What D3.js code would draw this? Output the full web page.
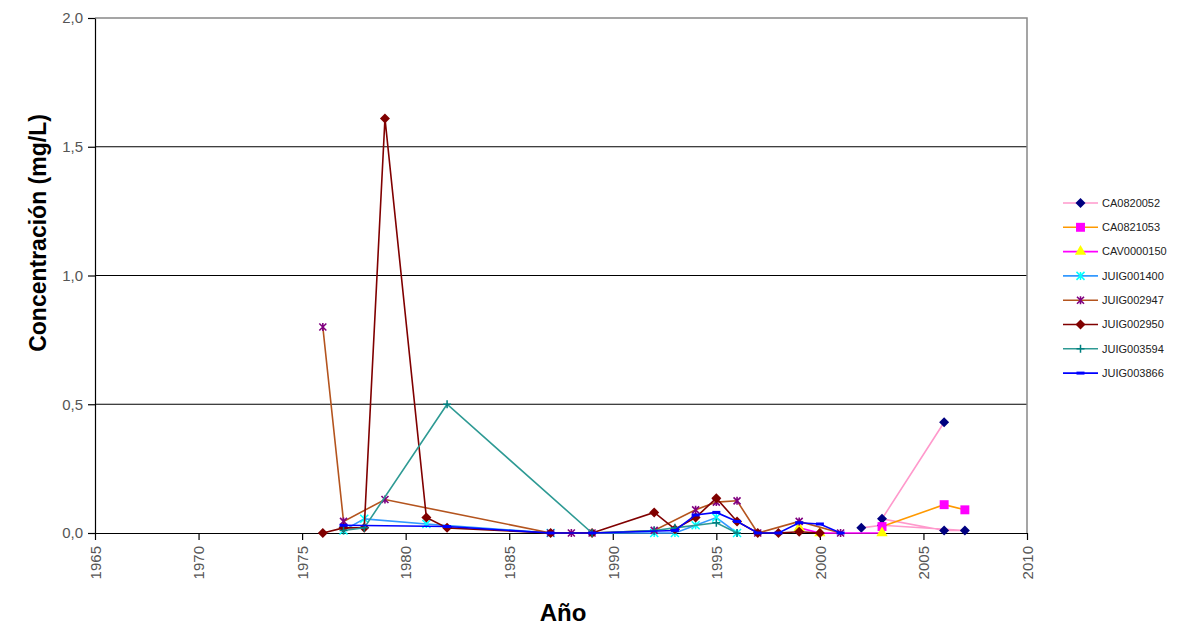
<!DOCTYPE html>
<html>
<head>
<meta charset="utf-8">
<script src="https://cdn.jsdelivr.net/npm/d3@7"></script>
<style>
  body { margin: 0; background: #fff; }
  svg { font-family: "Liberation Sans", Arial, sans-serif; }
</style>
</head>
<body>
<svg id="chart" width="1179" height="629"></svg>
<script>
// series data: [year, mg/L]
const CA0820052 = [[2002,0.02],[2003,0.03],[2007,0.01],[2006,0.01],[2003,0.055],[2006,0.43]];
const CA0821053 = [[2003,0.025],[2006,0.11],[2007,0.09]];
const CAV0000150 = [[1999,0.02],[2000,0.0],[2003,0.0]];
const JUIG001400 = [[1977,0.01],[1978,0.055],[1981,0.035],[1987,0.0],[1992,0.0],[1993,0.0],[1994,0.03],[1995,0.06],[1996,0.0]];
const JUIG002947 = [[1976,0.80],[1977,0.045],[1979,0.13],[1987,0.0],[1988,0.0],[1989,0.0],[1992,0.01],[1994,0.09],[1995,0.12],[1996,0.125],[1997,0.0],[1999,0.045],[2001,0.0]];
const JUIG002950 = [[1976,0.0],[1977,0.02],[1978,0.02],[1979,1.61],[1981,0.06],[1982,0.02],[1987,0.0],[1989,0.0],[1992,0.08],[1993,0.015],[1994,0.06],[1995,0.135],[1996,0.045],[1997,0.0],[1998,0.0],[1999,0.005],[2000,0.0]];
const JUIG003594 = [[1977,0.01],[1978,0.02],[1982,0.50],[1989,0.0],[1992,0.01],[1993,0.02],[1995,0.04],[1996,0.0]];
const JUIG003866 = [[1977,0.03],[1982,0.025],[1987,0.0],[1989,0.0],[1993,0.01],[1994,0.07],[1995,0.08],[1996,0.045],[1997,0.0],[1998,0.0],[1999,0.04],[2000,0.035],[2001,0.0]];

const seriesNames = ["CA0820052","CA0821053","CAV0000150","JUIG001400","JUIG002947","JUIG002950","JUIG003594","JUIG003866"];
const seriesData = [CA0820052, CA0821053, CAV0000150, JUIG001400, JUIG002947, JUIG002950, JUIG003594, JUIG003866];
const xTicks = [1965,1970,1975,1980,1985,1990,1995,2000,2005,2010];
const yTicks = [0, 0.5, 1.0, 1.5, 2.0];

const styles = [
  {line: "#ff99cc", marker: "diamond", fill: "#000080"},
  {line: "#ff9900", marker: "square", fill: "#ff00ff"},
  {line: "#ff00ff", marker: "triangle", fill: "#ffff00"},
  {line: "#3399ff", marker: "star", fill: "#00ffff"},
  {line: "#b4541e", marker: "asterisk", fill: "#800080"},
  {line: "#800000", marker: "diamond", fill: "#800000"},
  {line: "#2e9a94", marker: "plus", fill: "#008080"},
  {line: "#0000ff", marker: "dash", fill: "#0000ff"}
];

const margin = {top: 18, left: 95};
const width = 932, height = 515;
const svg = d3.select("#chart");
const g = svg.append("g").attr("transform", "translate(" + margin.left + "," + margin.top + ")");

const x = d3.scaleLinear().domain([1965, 2010]).range([0, width]);
const y = d3.scaleLinear().domain([0, 2]).range([height, 0]);

// gridlines
g.append("g").selectAll("line")
  .data(yTicks.filter(d => d > 0 && d < 2))
  .enter().append("line")
  .attr("x1", 0).attr("x2", width)
  .attr("y1", d => y(d)).attr("y2", d => y(d))
  .attr("stroke", "#000").attr("stroke-width", 1.2);

// plot border (top + right)
g.append("path")
  .attr("d", "M0," + y(2) + "H" + width + "V" + height)
  .attr("fill", "none").attr("stroke", "#888").attr("stroke-width", 1.5);

const fmt = d => d.toFixed(1).replace(".", ",");

const yAxis = g.append("g")
  .call(d3.axisLeft(y).tickValues(yTicks).tickFormat(fmt).tickSize(7).tickSizeOuter(0));
yAxis.selectAll("text").attr("font-size", 15).attr("fill", "#555").attr("dx", "-2");

const xAxis = g.append("g")
  .attr("transform", "translate(0," + height + ")")
  .call(d3.axisBottom(x).tickValues(xTicks).tickFormat(d3.format("d")).tickSize(7).tickSizeOuter(0));
xAxis.selectAll("text")
  .attr("font-size", 15).attr("fill", "#555")
  .attr("transform", "rotate(-90)")
  .attr("x", -13).attr("y", 0).attr("dy", "0.35em")
  .style("text-anchor", "end");
g.selectAll(".domain, .tick line").attr("stroke", "#000").attr("stroke-width", 1.2);

// axis titles
svg.append("text")
  .attr("transform", "translate(46,233)rotate(-90)")
  .attr("text-anchor", "middle")
  .attr("font-size", 23).attr("font-weight", "bold")
  .text("Concentración (mg/L)");
svg.append("text")
  .attr("x", 563).attr("y", 621)
  .attr("text-anchor", "middle")
  .attr("font-size", 24).attr("font-weight", "bold")
  .text("Año");

function drawMarker(sel, st) {
  const f = st.fill;
  if (st.marker === "diamond") {
    sel.append("path").attr("d", "M0,-5L5,0L0,5L-5,0Z").attr("fill", f);
  } else if (st.marker === "square") {
    sel.append("path").attr("d", d3.symbol(d3.symbolSquare, 80)()).attr("fill", f);
  } else if (st.marker === "triangle") {
    sel.append("path").attr("d", d3.symbol(d3.symbolTriangle, 55)()).attr("fill", f);
  } else if (st.marker === "star") {
    sel.append("path").attr("d", "M-4,-4L4,4M-4,4L4,-4M0,-4V4").attr("stroke", f).attr("stroke-width", 1.5);
  } else if (st.marker === "asterisk") {
    sel.append("path").attr("d", "M-3.5,-3.5L3.5,3.5M-3.5,3.5L3.5,-3.5M0,-4V4").attr("stroke", f).attr("stroke-width", 1.6);
  } else if (st.marker === "plus") {
    sel.append("path").attr("d", "M-4,0H4M0,-4V4").attr("stroke", f).attr("stroke-width", 1.5);
  } else if (st.marker === "dash") {
    sel.append("path").attr("d", "M-4,0H4").attr("stroke", f).attr("stroke-width", 3);
  }
}

const line = d3.line().x(d => x(d[0])).y(d => y(d[1]));

seriesData.forEach((data, i) => {
  const st = styles[i];
  const sg = g.append("g");
  sg.append("path")
    .datum(data)
    .attr("d", line)
    .attr("fill", "none")
    .attr("stroke", st.line)
    .attr("stroke-width", 1.6);
  sg.selectAll("g.m")
    .data(data)
    .enter().append("g")
    .attr("class", "m")
    .attr("transform", d => "translate(" + x(d[0]) + "," + y(d[1]) + ")")
    .each(function() { drawMarker(d3.select(this), st); });
});

// legend
const legend = svg.append("g").attr("transform", "translate(1063,203)");
seriesNames.forEach((name, i) => {
  const st = styles[i];
  const row = legend.append("g").attr("transform", "translate(0," + (i * 24.3) + ")");
  row.append("line").attr("x1", 0).attr("x2", 35).attr("y1", 0).attr("y2", 0)
    .attr("stroke", st.line).attr("stroke-width", 1.6);
  drawMarker(row.append("g").attr("transform", "translate(17.5,0)"), st);
  row.append("text").attr("x", 39).attr("y", 0).attr("dy", "0.35em")
    .attr("font-size", 11).attr("fill", "#222").text(name);
});
</script>
</body>
</html>
